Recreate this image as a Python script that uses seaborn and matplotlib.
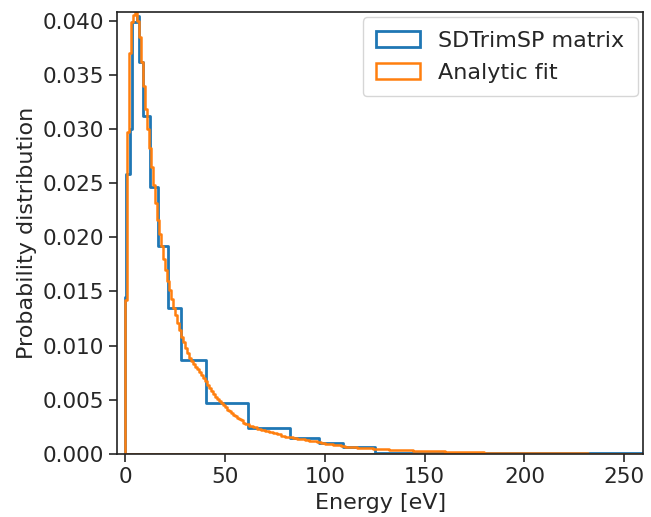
import numpy as np
import pandas as pd
import matplotlib
matplotlib.use("Agg")
import matplotlib.pyplot as plt
import seaborn as sns

# SDTrimSP matrix: bin edges [eV] and probability per bin
sd_edges = [0, 0.4, 2.3, 3.2, 5.7, 6.9, 8.9, 12.2, 16.2, 21.6, 28.1, 40.6,
            61.5, 82.6, 97, 109, 125, 262]
sd_values = [0.0145, 0.0258, 0.0300, 0.0399, 0.0404, 0.0362, 0.0312, 0.0246,
             0.0192, 0.0135, 0.0087, 0.0047, 0.0024, 0.00145, 0.00099,
             0.00062, 0.00012]

# Analytic fit: bin edges [eV] and probability per bin
fit_edges = (list(range(0, 60)) + list(range(60, 120, 2))
             + list(range(120, 261, 4)))
fit_values = [
    # 0..59, 1 eV bins
    0.0142, 0.0297, 0.0370, 0.0399, 0.0405, 0.0408, 0.0400, 0.0385, 0.0362,
    0.0340, 0.0318, 0.0300, 0.0282, 0.0265, 0.0248, 0.0232, 0.0216, 0.0203,
    0.0192, 0.0180, 0.0170, 0.0160, 0.0151, 0.0143, 0.0135, 0.0128, 0.0121,
    0.0114, 0.0108, 0.0103, 0.0098, 0.0093, 0.0089, 0.0086, 0.0083, 0.0080,
    0.0078, 0.0076, 0.0073, 0.0070, 0.0067, 0.0064, 0.0061, 0.0058, 0.0055,
    0.0053, 0.0051, 0.0049, 0.0047, 0.0045, 0.0043, 0.0041, 0.0040, 0.0038,
    0.0036, 0.0035, 0.0033, 0.0032, 0.0031, 0.0029,
    # 60..118, 2 eV bins
    0.00275, 0.0026, 0.0025, 0.0023, 0.0022, 0.0021, 0.0020, 0.0019, 0.0018,
    0.0017, 0.0016, 0.00155, 0.0015, 0.0014, 0.00135, 0.0013, 0.00122,
    0.00115, 0.00108, 0.00102, 0.00096, 0.0009, 0.00083, 0.00078, 0.00072,
    0.00068, 0.00064, 0.0006, 0.00057, 0.00054,
    # 120..256, 4 eV bins
    0.00051, 0.00047, 0.00043, 0.00039, 0.00036, 0.00033, 0.0003, 0.00027,
    0.00025, 0.00023, 0.00021, 0.00019, 0.00017, 0.00016, 0.00014, 0.00013,
    0.00012, 0.00011, 0.0001, 0.00009, 0.00008, 0.00007, 0.000065, 0.00006,
    0.000055, 0.00005, 0.000045, 0.00004, 0.000037, 0.000034, 0.00003,
    0.000028, 0.000025, 0.000023, 0.00002]

sd_df = pd.DataFrame({
    "energy": [(a + b) / 2 for a, b in zip(sd_edges[:-1], sd_edges[1:])],
    "prob": sd_values})
fit_df = pd.DataFrame({
    "energy": [(a + b) / 2 for a, b in zip(fit_edges[:-1], fit_edges[1:])],
    "prob": fit_values})

sns.set_theme(style="ticks")
plt.rcParams["font.family"] = ["DejaVu Sans"]

fig, ax = plt.subplots(figsize=(6.51, 5.17), dpi=100)
c_blue, c_orange = "#1f77b4", "#ff7f0e"

sns.histplot(data=sd_df, x="energy", weights="prob", bins=sd_edges,
             element="step", fill=True, color=c_blue, facecolor="none",
             edgecolor=c_blue, linewidth=2.0, label="SDTrimSP matrix", ax=ax)
sns.histplot(data=fit_df, x="energy", weights="prob", bins=fit_edges,
             element="step", fill=True, color=c_orange, facecolor="none",
             edgecolor=c_orange, linewidth=1.8, label="Analytic fit", ax=ax)

ax.set_xlim(-4, 259.5)
ax.set_ylim(0, 0.0408)
ax.set_xticks([0, 50, 100, 150, 200, 250])
ax.set_yticks([0.0, 0.005, 0.010, 0.015, 0.020, 0.025, 0.030, 0.035, 0.040])
ax.set_yticklabels([f"{v:.3f}" for v in ax.get_yticks()])
ax.set_xlabel("Energy [eV]", fontsize=16)
ax.set_ylabel("Probability distribution", fontsize=16)
ax.tick_params(labelsize=15.5, length=6, width=1.2)
for s in ax.spines.values():
    s.set_linewidth(1.2)
    s.set_color("#222222")
ax.legend(loc="upper right", fontsize=16, frameon=True,
          borderaxespad=0.25, borderpad=0.6, labelspacing=0.55)

fig.subplots_adjust(left=0.18, right=0.988, top=0.977, bottom=0.122)
fig.savefig("out.png", dpi=100)
